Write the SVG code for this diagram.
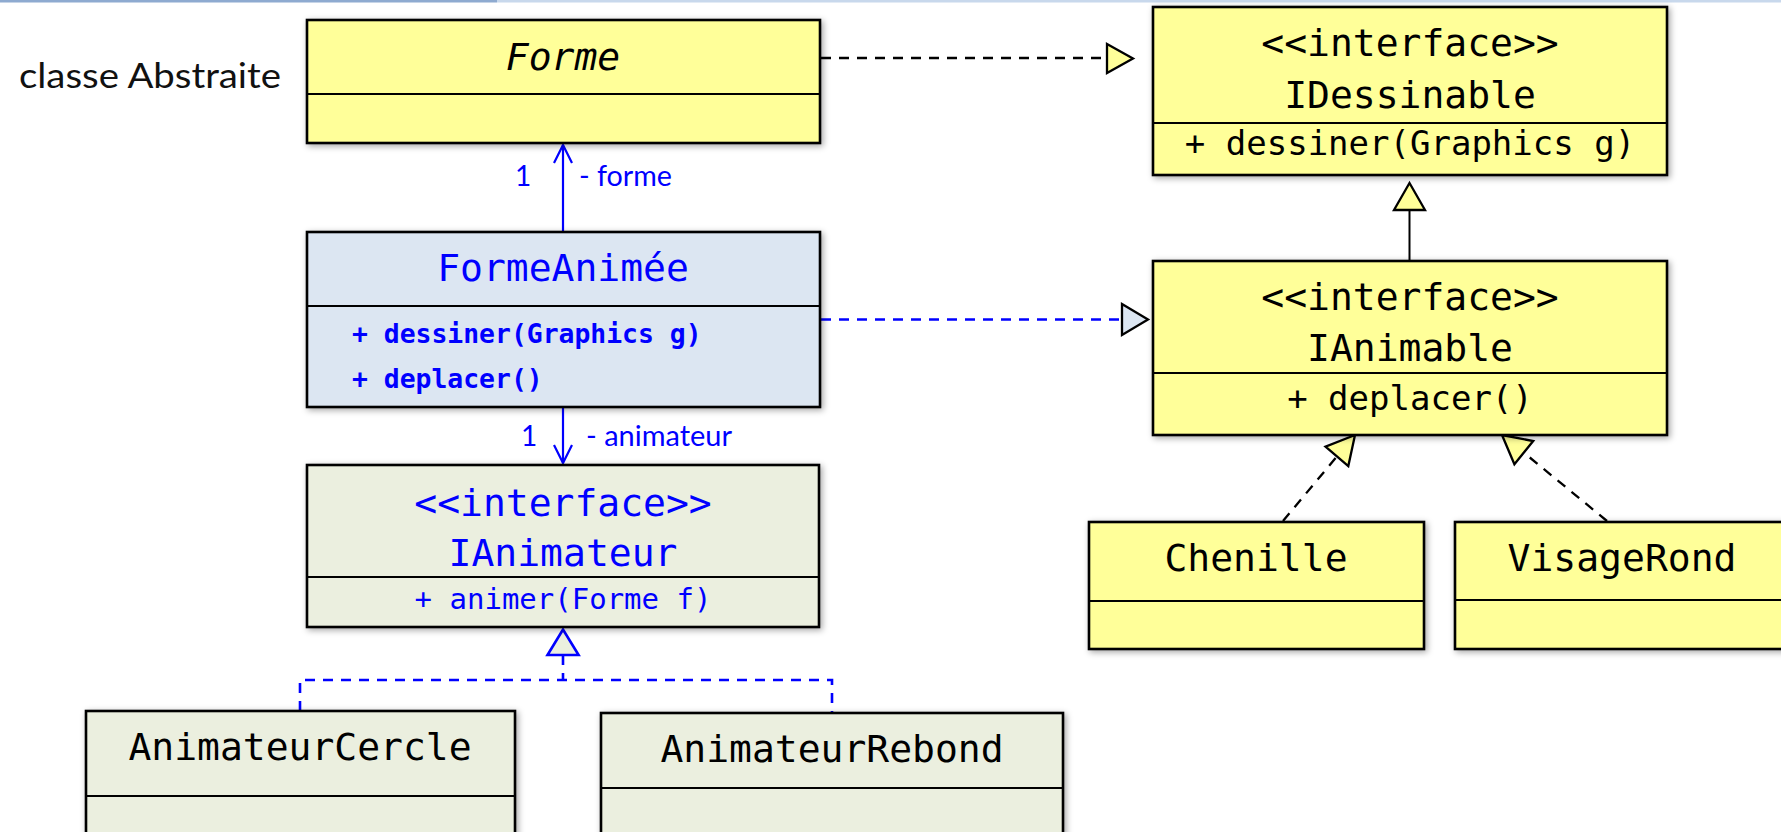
<svg xmlns="http://www.w3.org/2000/svg" width="1781" height="832" viewBox="0 0 1781 832">
<style>
.box{stroke:#000;stroke-width:2.6;filter:url(#sh)}
.y{fill:#ffff99}
.b{fill:#dce6f2}
.g{fill:#ebefdf}
.div{stroke:#000;stroke-width:2}
.t{font-family:"DejaVu Sans Mono",monospace;font-size:38px;text-anchor:middle;dominant-baseline:central;fill:#000}
.m{font-family:"DejaVu Sans Mono",monospace;font-size:34px;text-anchor:middle;dominant-baseline:central;fill:#000}
.mb{font-family:"DejaVu Sans Mono",monospace;font-size:26.4px;font-weight:bold;text-anchor:start;dominant-baseline:central;fill:#0000ff}
.blue{fill:#0000ff}
.lbl{font-family:Lato,"Liberation Sans",sans-serif;dominant-baseline:central}
.dk{stroke:#000;stroke-width:2.3;fill:none;stroke-dasharray:10 8}
.db{stroke:#0000ff;stroke-width:2.6;fill:none;stroke-dasharray:10 8}
.sb{stroke:#0000ff;stroke-width:2.2;fill:none}
</style>
<defs>
<filter id="sh" x="-5%" y="-5%" width="115%" height="120%">
<feDropShadow dx="2" dy="2" stdDeviation="3" flood-color="#000" flood-opacity="0.35"/>
</filter>
</defs>
<rect x="0" y="0" width="497" height="2.5" fill="#8eaad0"/>
<rect x="497" y="0" width="1284" height="2.5" fill="#c8d8ec"/>

<text class="lbl" x="19" y="74" font-size="34" fill="#111" textLength="262" lengthAdjust="spacingAndGlyphs">classe Abstraite</text>

<g id="connectors">
<line class="dk" x1="821" y1="58" x2="1107" y2="58"/>
<polygon points="1107,44 1133,58.5 1107,73" fill="#ffff99" stroke="#000" stroke-width="2.3"/>
<line class="db" x1="821" y1="319.5" x2="1122" y2="319.5"/>
<polygon points="1122,304 1148,319.5 1122,335" fill="#dce6f2" stroke="#000" stroke-width="2.3"/>
<line x1="1409.5" y1="261" x2="1409.5" y2="210" stroke="#000" stroke-width="2"/>
<polygon points="1394,210 1409.5,183 1425,210" fill="#ffff99" stroke="#000" stroke-width="2.3"/>
<line class="dk" x1="1283" y1="521" x2="1337" y2="456.4"/>
<polygon points="1355,435 1348.3,466.1 1325.5,446.7" fill="#ffff99" stroke="#000" stroke-width="2.3"/>
<line class="dk" x1="1607" y1="521" x2="1523.8" y2="452.6"/>
<polygon points="1502,435 1533.2,441 1514.4,464.3" fill="#ffff99" stroke="#000" stroke-width="2.3"/>
<line class="sb" x1="563" y1="232" x2="563" y2="145"/>
<polyline class="sb" points="554,163 563,145 572,163"/>
<text class="lbl blue" x="523" y="175" font-size="28" text-anchor="middle">1</text>
<text class="lbl blue" x="579" y="175" font-size="28" textLength="93" lengthAdjust="spacingAndGlyphs">- forme</text>
<line class="sb" x1="563" y1="407" x2="563" y2="463"/>
<polyline class="sb" points="554,445 563,463 572,445"/>
<text class="lbl blue" x="529" y="435" font-size="28" text-anchor="middle">1</text>
<text class="lbl blue" x="586" y="435" font-size="28" textLength="146" lengthAdjust="spacingAndGlyphs">- animateur</text>
<polygon points="547.5,655 563,629.5 578.6,655" fill="#ebefdf" stroke="#0000ff" stroke-width="2.6"/>
<line class="db" x1="563" y1="655" x2="563" y2="680"/>
<polyline class="db" points="300,711 300,680 832,680 832,712"/>
</g>

<g id="Forme">
<rect class="box y" x="307" y="20" width="513" height="123"/>
<line class="div" x1="307" y1="94" x2="820" y2="94"/>
<text class="t" x="563" y="57" font-style="italic">Forme</text>
</g>

<g id="IDessinable">
<rect class="box y" x="1153" y="7" width="514" height="168"/>
<line class="div" x1="1153" y1="123" x2="1667" y2="123"/>
<text class="t" x="1410" y="43">&lt;&lt;interface&gt;&gt;</text>
<text class="t" x="1410" y="95">IDessinable</text>
<text class="m" x="1410" y="143">+ dessiner(Graphics g)</text>
</g>

<g id="FormeAnimee">
<rect class="box b" x="307" y="232" width="513" height="175"/>
<line class="div" x1="307" y1="306" x2="820" y2="306"/>
<text class="t blue" x="563" y="268">FormeAnimée</text>
<text class="mb" x="352" y="333">+ dessiner(Graphics g)</text>
<text class="mb" x="352" y="378">+ deplacer()</text>
</g>

<g id="IAnimable">
<rect class="box y" x="1153" y="261" width="514" height="174"/>
<line class="div" x1="1153" y1="373" x2="1667" y2="373"/>
<text class="t" x="1410" y="297">&lt;&lt;interface&gt;&gt;</text>
<text class="t" x="1410" y="348">IAnimable</text>
<text class="m" x="1410" y="398">+ deplacer()</text>
</g>

<g id="IAnimateur">
<rect class="box g" x="307" y="465" width="512" height="162"/>
<line class="div" x1="307" y1="577" x2="819" y2="577"/>
<text class="t blue" x="563" y="503">&lt;&lt;interface&gt;&gt;</text>
<text class="t blue" x="563" y="553">IAnimateur</text>
<text class="m blue" x="563" y="599" style="font-size:29px">+ animer(Forme f)</text>
</g>

<g id="Chenille">
<rect class="box y" x="1089" y="522" width="335" height="127"/>
<line class="div" x1="1089" y1="601" x2="1424" y2="601"/>
<text class="t" x="1256" y="558">Chenille</text>
</g>

<g id="VisageRond">
<rect class="box y" x="1455" y="522" width="340" height="127"/>
<line class="div" x1="1455" y1="600" x2="1795" y2="600"/>
<text class="t" x="1622" y="558">VisageRond</text>
</g>

<g id="AnimateurCercle">
<rect class="box g" x="86" y="711" width="429" height="140"/>
<line class="div" x1="86" y1="796" x2="515" y2="796"/>
<text class="t" x="300" y="747">AnimateurCercle</text>
</g>

<g id="AnimateurRebond">
<rect class="box g" x="601" y="713" width="462" height="140"/>
<line class="div" x1="601" y1="788" x2="1063" y2="788"/>
<text class="t" x="832" y="749">AnimateurRebond</text>
</g>
</svg>
